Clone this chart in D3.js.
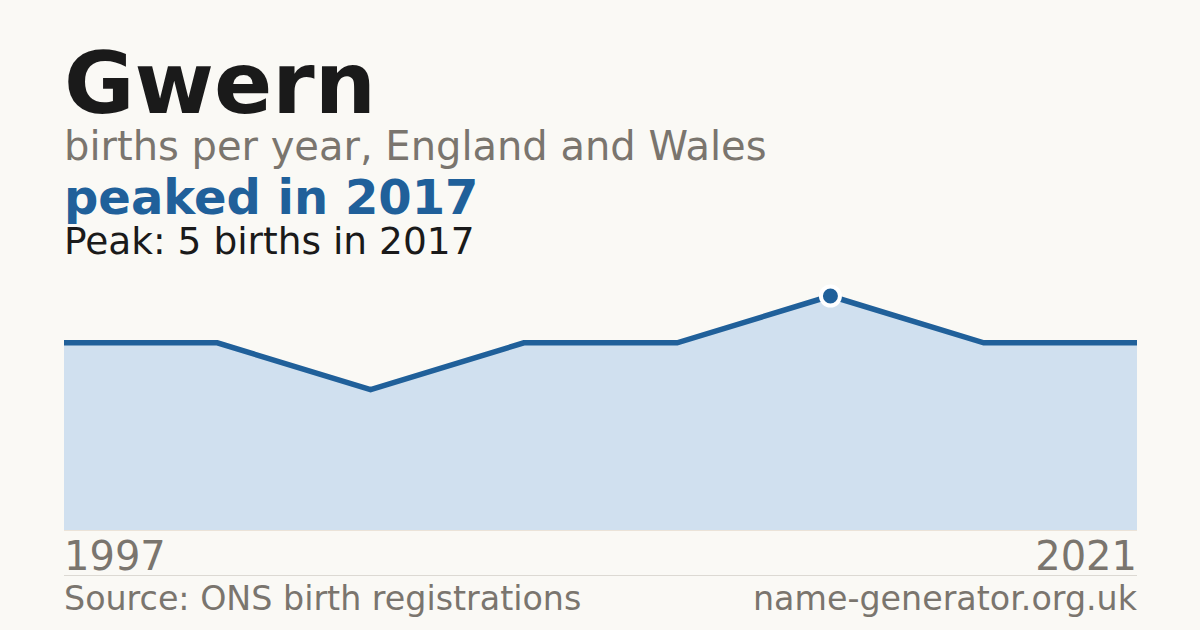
<!DOCTYPE html>
<html>
<head>
<meta charset="utf-8">
<script src="https://cdn.jsdelivr.net/npm/d3@7"></script>
<style>
  body { margin: 0; background: #faf9f5; }
  svg text { font-family: "DejaVu Sans", sans-serif; }
</style>
</head>
<body>
<div id="chart-area"></div>
<script>
// data (years with registrations, births per year)
const years = [1997, 2003, 2008, 2010, 2013, 2017, 2019, 2021];
const births = [4, 4, 3, 4, 4, 5, 4, 4];
const peakYear = 2017;
const axisLabels = ["1997", "2021"];

const svgWidth = 1200;
const svgHeight = 630;
var margin = {left: 64, right: 63, top: 296, bottom: 100};

var chartWidth = svgWidth - margin.left - margin.right,
    chartHeight = svgHeight - margin.top - margin.bottom;

var blue = "#20609a",
    grey = "#7a756e";

var svg = d3.select("#chart-area")
    .append("svg")
        .attr("width", svgWidth)
        .attr("height", svgHeight)
        .style("background", "#faf9f5");

// headings
svg.append("text")
    .attr("x", 64).attr("y", 113)
    .attr("font-size", "86px").attr("font-weight", "bold")
    .attr("fill", "#1a1a1a")
    .text("Gwern");

svg.append("text")
    .attr("x", 64).attr("y", 160)
    .attr("font-size", "40px")
    .attr("fill", grey)
    .text("births per year, England and Wales");

var peakVal = d3.max(births);
svg.append("text")
    .attr("x", 64).attr("y", 214)
    .attr("font-size", "48px").attr("font-weight", "bold")
    .attr("fill", blue)
    .text("peaked in " + peakYear);

svg.append("text")
    .attr("x", 64).attr("y", 254)
    .attr("font-size", "37.5px")
    .attr("fill", "#1a1a1a")
    .text("Peak: " + peakVal + " births in " + peakYear);

var g = svg.append("g")
    .attr("transform", "translate(" + margin.left + "," + margin.top + ")");

var data = years.map(function(y, i){ return {year: y, births: births[i]}; });

// scales
var xScale = d3.scalePoint()
    .domain(years)
    .range([0, chartWidth]);

var yScale = d3.scaleLinear()
    .domain([0, peakVal])
    .range([chartHeight, 0]);

// area
var area = d3.area()
    .x(function(d){ return xScale(d.year); })
    .y0(chartHeight)
    .y1(function(d){ return yScale(d.births); });

g.append("path")
    .datum(data)
    .attr("d", area)
    .attr("fill", "#d0e0ef");

// baseline
g.append("line")
    .attr("x1", 0).attr("x2", chartWidth)
    .attr("y1", chartHeight + 0.5).attr("y2", chartHeight + 0.5)
    .attr("stroke", "#ebe3d8");

// line
var line = d3.line()
    .x(function(d){ return xScale(d.year); })
    .y(function(d){ return yScale(d.births); });

g.append("path")
    .datum(data)
    .attr("d", line)
    .attr("fill", "none")
    .attr("stroke", blue)
    .attr("stroke-width", 5.5);

// peak marker
g.append("circle")
    .attr("cx", xScale(peakYear))
    .attr("cy", yScale(peakVal))
    .attr("r", 9.5)
    .attr("fill", blue)
    .attr("stroke", "#ffffff")
    .attr("stroke-width", 4);

// x labels (first and last)
g.append("text")
    .attr("x", 0).attr("y", chartHeight + 40)
    .attr("font-size", "40px").attr("fill", grey)
    .text(axisLabels[0]);

g.append("text")
    .attr("x", chartWidth).attr("y", chartHeight + 40)
    .attr("text-anchor", "end")
    .attr("font-size", "40px").attr("fill", grey)
    .text(axisLabels[1]);

// divider
svg.append("line")
    .attr("x1", 64).attr("x2", 1137)
    .attr("y1", 575.5).attr("y2", 575.5)
    .attr("stroke", "#dcd9d3");

// footer
svg.append("text")
    .attr("x", 64).attr("y", 610)
    .attr("font-size", "33.3px").attr("fill", grey)
    .text("Source: ONS birth registrations");

svg.append("text")
    .attr("x", 1137).attr("y", 610)
    .attr("text-anchor", "end")
    .attr("font-size", "33.3px").attr("fill", grey)
    .text("name-generator.org.uk");
</script>
</body>
</html>
